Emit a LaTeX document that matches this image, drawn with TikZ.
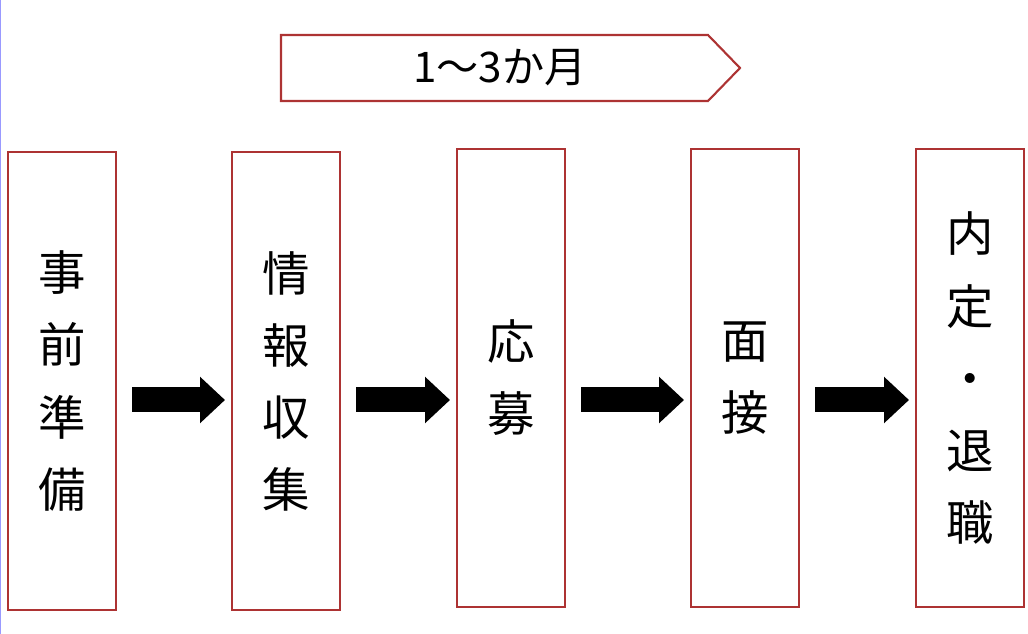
\documentclass[tikz,border=0pt]{standalone}
\usepackage{fontspec}
\setmainfont{Noto Sans CJK JP}
\usetikzlibrary{positioning, arrows.meta, shapes.arrows}

\begin{document}
\begin{tikzpicture}[
    x=0.02cm, y=-0.02cm,
    stage/.style={rectangle, draw=red!60!black!80, line width=1.2pt, minimum width=2.16cm, minimum height=9.16cm, align=center, font=\fontsize{27}{41}\selectfont, inner sep=0pt},
    arrow/.style={line width=0.5cm, -{Triangle[length=0.5cm, width=0.9cm]}, shorten <=0.3cm, shorten >=0.12cm},
]
\useasboundingbox (0,0) rectangle (1028,634);
\draw[blue!40, line width=1pt] (0,0) -- (0,634);

\node[stage, anchor=north west] (prep) at (7,151) {事\\前\\準\\備};
\node[stage, anchor=north west] (info) at (231,151) {情\\報\\収\\集};
\node[stage, anchor=north west] (apply) at (456,148) {応\\募};
\node[stage, anchor=north west] (interview) at (690,148) {面\\接};
\node[stage, anchor=north west] (offer) at (915,148) {内\\定\\・\\退\\職};

\draw[draw=red!60!black!80, line width=1.2pt] (281,35) -- (708,35) -- (740,68) -- (708,101) -- (281,101) -- cycle;
\node[font=\fontsize{24}{28}\selectfont] (period) at (500,68) {1～3か月};

\foreach \a/\b in {prep/info, info/apply, apply/interview, interview/offer} {
    \draw[arrow] (\a.east |- 0,400) -- (\b.west |- 0,400);
}
\end{tikzpicture}
\end{document}
